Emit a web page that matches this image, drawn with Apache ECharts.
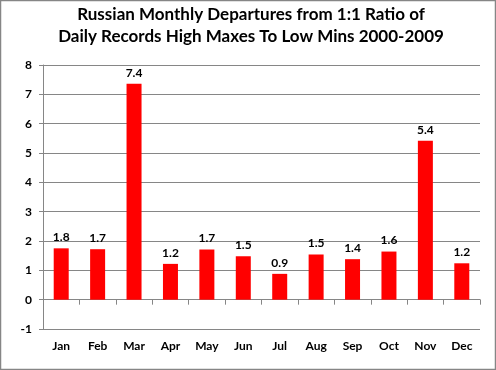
<!DOCTYPE html>
<html><head><meta charset="utf-8">
<script src="https://cdn.jsdelivr.net/npm/echarts@6/dist/echarts.min.js"></script>
<style>
html,body{margin:0;padding:0;background:#fff;}
#c{width:496px;height:370px;}
</style></head>
<body><div id="c"></div>
<script>
var titleText = "Russian Monthly Departures from 1:1 Ratio of\nDaily Records High Maxes To Low Mins 2000-2009";
var months = ["Jan","Feb","Mar","Apr","May","Jun","Jul","Aug","Sep","Oct","Nov","Dec"];
var departures = [1.75, 1.72, 7.36, 1.22, 1.71, 1.48, 0.88, 1.54, 1.38, 1.64, 5.42, 1.24];
var yMin = -1, yMax = 8, yStep = 1;

var chart = echarts.init(document.getElementById('c'), null, {renderer:'canvas'});
var font = 'Lato, "Open Sans", sans-serif';
chart.setOption({
  animation:false,
  graphic:[{type:'rect', shape:{x:0.5, y:0.5, width:495, height:369}, style:{fill:null, stroke:'#868686', lineWidth:1.5}, silent:true}],
  title:{
    text:titleText, left:251, top:4, textAlign:'center', padding:0,
    textStyle:{fontFamily:font, fontWeight:'bold', fontSize:17, lineHeight:22, color:'#000'}
  },
  grid:{left:43, right:16, top:65, bottom:41, containLabel:false, outerBoundsMode:'none'},
  xAxis:[{
    type:'category', data:months, position:'bottom',
    axisLine:{show:false, onZero:false},
    axisTick:{show:false},
    axisLabel:{margin:11, color:'#000', fontFamily:font, fontWeight:'bold', fontSize:12}
  },{
    type:'category', data:months, position:'bottom',
    axisLine:{show:true, onZero:true, lineStyle:{color:'#868686', width:1}},
    axisTick:{show:true, alignWithLabel:false, length:5, lineStyle:{color:'#868686'}},
    axisLabel:{show:false}
  }],
  yAxis:{
    type:'value', min:yMin, max:yMax, interval:yStep,
    axisLine:{show:true, lineStyle:{color:'#868686'}},
    axisTick:{show:true, length:4, lineStyle:{color:'#868686'}},
    axisLabel:{margin:11, color:'#000', fontFamily:font, fontWeight:'bold', fontSize:12},
    splitLine:{show:true, lineStyle:{color:'#868686', width:1}}
  },
  series:[{
    type:'bar', data:departures, barWidth:15, xAxisIndex:0,
    itemStyle:{color:'#ff0000'},
    label:{show:true, position:'top', distance:5, color:'#000', fontFamily:font, fontWeight:'bold', fontSize:12,
      formatter:function(p){return p.value.toFixed(1);}}
  }]
});
</script></body></html>
